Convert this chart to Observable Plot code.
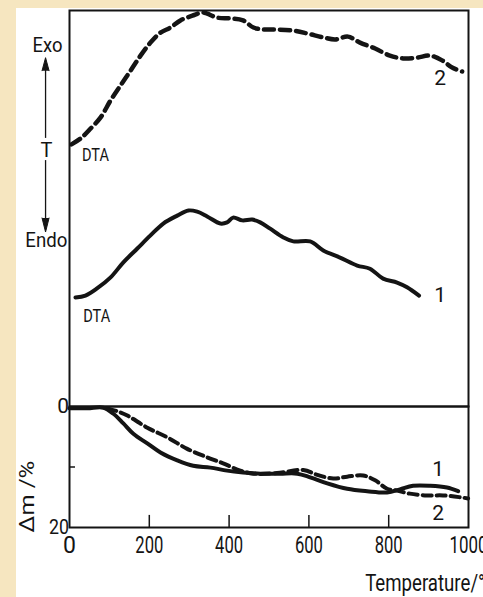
<!DOCTYPE html>
<html>
<head>
<meta charset="utf-8">
<script src="https://cdn.jsdelivr.net/npm/d3@7"></script>
<script src="https://cdn.jsdelivr.net/npm/@observablehq/plot@0.6"></script>
<style>
  html, body { margin: 0; padding: 0; width: 483px; height: 597px; overflow: hidden; background: #f6e6c0; }
  #page { position: absolute; left: 16px; top: 8px; width: 467px; height: 589px; background: #fff; overflow: hidden; }
  #page svg { position: absolute; left: 0; }
</style>
</head>
<body>
<div id="page"></div>
<script>
// DTA trace of sample 2 (dashed), temperature in °C, signal in arbitrary units
const dta2Temp   = [5, 28, 53, 78, 103, 128, 153, 178, 203, 228, 253, 278, 308, 333, 345, 370, 403, 435, 461, 486, 511, 561, 596, 636, 666, 698, 728, 766, 803, 836, 871, 904, 934, 959, 984];
const dta2Signal = [66.2, 67.7, 70.2, 73.0, 77.3, 81.1, 84.8, 88.6, 91.9, 94.4, 95.7, 97.5, 98.7, 99.5, 99.2, 98.2, 98.0, 97.5, 95.7, 95.2, 95.2, 94.9, 94.2, 93.2, 92.7, 93.4, 91.9, 90.4, 88.6, 87.9, 88.1, 88.6, 87.4, 85.6, 84.6];

// DTA trace of sample 1 (solid)
const dta1Temp   = [15, 40, 69, 103, 135, 170, 203, 235, 270, 298, 320, 345, 378, 395, 410, 433, 458, 478, 503, 536, 561, 603, 636, 678, 721, 753, 786, 821, 846, 876];
const dta1Signal = [27.5, 28.0, 29.8, 32.6, 36.4, 39.9, 43.2, 46.2, 48.2, 49.5, 49.2, 48.0, 46.2, 46.5, 47.7, 47.0, 47.2, 46.5, 44.9, 42.7, 41.7, 41.7, 39.4, 37.6, 35.6, 34.8, 32.3, 31.3, 30.1, 28.0];

// Mass loss Δm (%) of sample 1 (solid)
const tg1Temp = [0, 45, 85, 110, 135, 160, 195, 228, 270, 310, 353, 395, 435, 478, 528, 571, 603, 646, 696, 746, 796, 828, 861, 904, 946, 974];
const tg1Loss = [0.3, 0.3, 0.2, 1.2, 2.8, 4.5, 6.1, 7.6, 8.9, 9.8, 10.1, 10.6, 10.9, 11.1, 11.1, 11.1, 11.7, 12.7, 13.6, 14.0, 14.2, 13.7, 13.1, 13.1, 13.4, 14.0];

// Mass loss Δm (%) of sample 2 (dashed)
const tg2Temp = [95, 120, 145, 195, 245, 295, 345, 385, 428, 461, 520, 586, 621, 661, 696, 736, 766, 796, 821, 853, 896, 936, 979, 999];
const tg2Loss = [0.3, 0.8, 1.5, 3.5, 5.1, 7.0, 8.4, 9.4, 10.6, 11.1, 11.0, 10.5, 11.3, 11.9, 11.6, 11.4, 12.2, 13.6, 13.9, 14.4, 14.7, 14.7, 15.0, 15.2];

// Axis ticks and labels
const xTickLabels = [0, 200, 400, 600, 800, 1000];
const xInnerTicks = [200, 400, 600, 800];
const yTickLabels = [0, 20];
const yInnerTicks = [10];

const zip = (xs, ys) => xs.map((x, i) => ({x, y: ys[i]}));
const dta1 = zip(dta1Temp, dta1Signal);
const dta2 = zip(dta2Temp, dta2Signal);
const tg1 = zip(tg1Temp, tg1Loss);
const tg2 = zip(tg2Temp, tg2Loss);

const ink = "#141414";
const font = "Roboto, 'Noto Sans', sans-serif";
const svgStyle = {background: "none", color: ink, fontFamily: font, overflow: "visible"};
const left = -60; // temperature position of the Exo/Endo arrow in the left margin

// Upper panel: DTA curves
const upper = Plot.plot({
  width: 467, height: 398,
  marginTop: 2, marginRight: 15, marginBottom: 0, marginLeft: 53,
  x: {domain: [0, 1000], axis: null},
  y: {domain: [0, 100], axis: null},
  style: svgStyle,
  marks: [
    Plot.frame({stroke: ink, strokeWidth: 2}),
    Plot.line(dta2, {x: "x", y: "y", stroke: ink, strokeWidth: 4.5, strokeDasharray: "10,6", curve: "catmull-rom"}),
    Plot.line(dta1, {x: "x", y: "y", stroke: ink, strokeWidth: 4, curve: "catmull-rom"}),
    Plot.text(["2", "1"], {x: [929, 929], y: [82.8, 28.0], text: d => d, fontSize: 21, fill: ink}),
    Plot.text(["DTA", "DTA"], {x: [65, 68], y: [63.6, 23.0], text: d => d, fontSize: 19, fill: ink}),
    // Exo / Endo direction arrow
    Plot.ruleX([left], {y1: 67.7, y2: 85.4, stroke: ink, strokeWidth: 1.3}),
    Plot.ruleX([left], {y1: 47.2, y2: 62.1, stroke: ink, strokeWidth: 1.3}),
    Plot.vector([0], {x: left, y: 84.8, anchor: "start", rotate: 0, length: 13, r: 3.5, shape: "spike", stroke: ink, fill: ink, strokeWidth: 1}),
    Plot.vector([0], {x: left, y: 47.6, anchor: "start", rotate: 180, length: 14, r: 3.5, shape: "spike", stroke: ink, fill: ink, strokeWidth: 1}),
    Plot.text(["Exo", "T", "Endo"], {x: [-55, -58, -58], y: [91.2, 64.6, 41.9], text: d => d, fontSize: [21, 20, 21], fill: ink})
  ]
});
upper.style.top = "0px";

// Lower panel: mass loss curves
const lower = Plot.plot({
  width: 467, height: 193,
  marginTop: 2, marginRight: 15, marginBottom: 70, marginLeft: 53,
  x: {domain: [0, 1000], axis: null},
  y: {domain: [0, 20], reverse: true, axis: null},
  style: svgStyle,
  marks: [
    Plot.frame({stroke: ink, strokeWidth: 2}),
    Plot.ruleX(xInnerTicks, {y1: 20, y2: 18, stroke: ink, strokeWidth: 1.5}),
    Plot.ruleY(yInnerTicks, {x1: 0, x2: 15, stroke: ink, strokeWidth: 1.5}),
    Plot.line(tg2, {x: "x", y: "y", stroke: ink, strokeWidth: 4, strokeDasharray: "9,5", curve: "catmull-rom"}),
    Plot.line(tg1, {x: "x", y: "y", stroke: ink, strokeWidth: 4, curve: "catmull-rom"}),
    Plot.text(["1", "2"], {x: [924, 924], y: [10.4, 17.7], text: d => d, fontSize: 21, fill: ink}),
    Plot.text(xTickLabels, {x: d => d, y: 20, dy: 18, text: d => String(d), fontSize: 23, fill: ink}),
    Plot.text(yTickLabels, {x: 0, y: d => d, dx: -5, dy: [0, -3], textAnchor: "end", text: d => String(d), fontSize: 21, fill: ink}),
    Plot.text(["Δm /%"], {x: -105, y: 14.9, rotate: -90, text: d => d, fontSize: 20, fill: ink}),
    Plot.text(["Temperature/°C"], {x: 741, y: 20, dy: 56, textAnchor: "start", text: d => d, fontSize: 23, fill: ink})
  ]
});
lower.style.top = "396px";

const page = document.getElementById("page");
page.appendChild(upper);
page.appendChild(lower);

// Narrow lettering: squeeze the multi-character labels to their set widths
const labelWidths = new Map([
  ["Exo", 30], ["Endo", 42], ["DTA", 27],
  ["20", 20], ["200", 28], ["400", 28], ["600", 28], ["800", 28], ["1000", 38],
  ["Δm /%", 72], ["Temperature/°C", 132]
]);
for (const t of page.querySelectorAll("text")) {
  const w = labelWidths.get(t.textContent);
  if (w) {
    t.setAttribute("textLength", w);
    t.setAttribute("lengthAdjust", "spacingAndGlyphs");
  }
}
</script>
</body>
</html>
